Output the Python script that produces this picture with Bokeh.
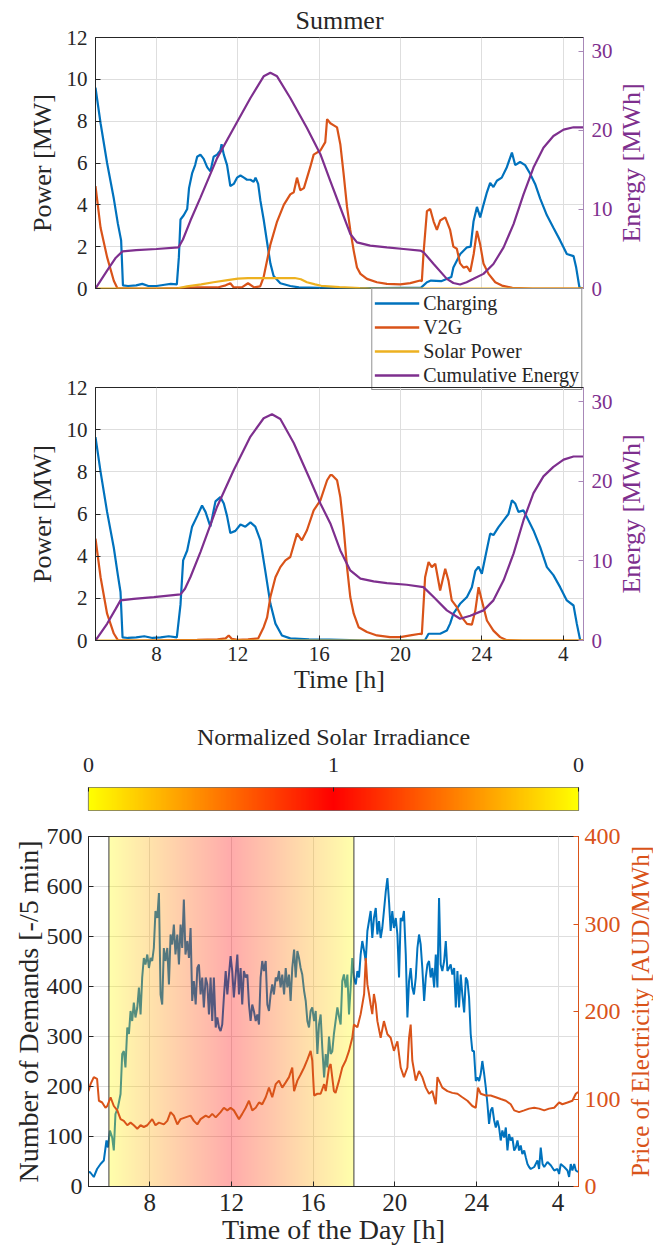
import math
import numpy as np
from bokeh.plotting import figure
from bokeh.models import Range1d, LinearAxis, FixedTicker, Legend, LegendItem, Title
from bokeh.layouts import column, row
from bokeh.embed import file_html
from bokeh.resources import INLINE

FONT = "Liberation Serif"
DARK = "#262626"
BLUE, ORANGE, YELLOW, PURPLE = "#0072BD", "#D95319", "#EDB120", "#7E2F8E"

# ---------------- data ----------------
x_ticks = [8, 12, 16, 20, 24, 28]
x_tick_overrides = {28: "4"}
time_range = [5, 29]
power_range = [0, 12]
energy_range = [0, 31.76]

# Panel 1 (Summer)
ch1_t = [5.0, 5.25, 5.57, 5.9, 6.1, 6.26, 6.35, 6.6, 7.0, 7.3, 7.6, 8.0, 8.4, 8.7, 9.0, 9.1, 9.18, 9.34, 9.51, 9.6,
         9.75, 9.9, 10.0, 10.16, 10.32, 10.49, 10.65, 10.81, 10.98, 11.14, 11.2, 11.31, 11.47, 11.63, 11.8, 11.96,
         12.13, 12.3, 12.45, 12.62, 12.78, 12.87, 13.0, 13.11, 13.27, 13.44, 13.6, 13.76, 14.09, 14.58, 15.0, 16.0,
         17.0, 18.0, 19.0, 20.0, 21.0, 21.3, 21.5, 22.0, 22.5, 22.6, 22.94, 23.27, 23.45, 23.59, 23.76, 23.92, 24.08,
         24.25, 24.41, 24.57, 24.74, 24.98, 25.23, 25.48, 25.64, 25.88, 26.13, 26.37, 26.62, 26.87, 27.2, 27.52,
         27.85, 28.18, 28.51, 28.64, 28.8, 29.0]
ch1_v = [9.6, 7.9, 6.0, 4.3, 3.1, 2.3, 0.15, 0.12, 0.15, 0.22, 0.12, 0.12, 0.18, 0.22, 0.2, 1.5, 3.3, 3.5, 3.8, 4.8,
         5.5, 5.9, 6.3, 6.4, 6.2, 5.8, 5.6, 6.3, 6.4, 6.6, 6.9, 6.4, 5.9, 4.9, 5.0, 5.3,
         5.4, 5.3, 5.2, 5.2, 5.1, 5.3, 5.0, 4.2, 3.3, 2.2, 1.2, 0.6, 0.25, 0.12, 0.05, 0.03,
         0.02, 0.02, 0.02, 0.03, 0.03, 0.3, 0.38, 0.35, 0.55, 1.0, 1.65, 1.97, 2.0, 3.2, 3.9, 3.4, 4.0,
         4.6, 5.05, 4.85, 5.15, 5.3, 5.8, 6.5, 5.9, 6.05, 5.9, 5.5, 5.0, 4.3, 3.5, 2.9,
         2.3, 1.65, 1.55, 1.0, 0.05, 0.0]

v2g1_t = [5.0, 5.25, 5.57, 5.9, 6.07, 7.0, 8.0, 9.0, 10.0, 11.0, 11.4, 11.63, 11.8, 12.2, 12.5, 12.8, 13.1, 13.27,
          13.44, 13.6, 13.93, 14.26, 14.58, 14.75, 14.91, 15.07, 15.25, 15.56, 15.73, 16.06, 16.3, 16.39, 16.55,
          16.72, 16.88, 17.04, 17.2, 17.37, 17.53, 17.7, 17.86, 18.03, 18.35, 18.84, 19.33, 19.99, 20.48, 20.97,
          21.05, 21.13, 21.3, 21.46, 21.63, 21.79, 21.95, 22.2, 22.44, 22.6, 22.77, 22.93, 23.1, 23.27, 23.43, 23.6,
          23.76, 23.92, 24.08, 24.33, 24.66, 24.99, 25.5, 26.5, 29.0]
v2g1_v = [4.9, 2.9, 1.5, 0.37, 0.02, 0.0, 0.0, 0.02, 0.05, 0.05, 0.15, 0.25, 0.05, 0.05, 0.25, 0.05, 0.1, 0.55,
          1.35, 2.1, 3.2, 4.0, 4.5, 4.6, 5.3, 4.7, 4.8, 5.8, 6.4, 6.6, 7.0, 8.1, 7.9,
          7.8, 7.7, 6.9, 5.5, 3.9, 2.8, 1.8, 1.0, 0.7, 0.46, 0.3, 0.22, 0.2, 0.26, 0.38,
          0.35, 1.65, 3.7, 3.8, 3.2, 2.8, 3.25, 3.4, 2.8, 2.0, 1.9, 1.2, 1.0, 1.05, 0.8, 1.65,
          2.75, 2.1, 1.2, 0.7, 0.3, 0.14, 0.03, 0.0, 0.0]

sol1_t = [5.0, 9.0, 9.5, 10.2, 10.8, 11.5, 12.0, 12.5, 13.5, 14.8, 15.1, 15.4, 15.8, 16.1, 17.0, 18.0, 18.5, 29.0]
sol1_v = [0.0, 0.0, 0.1, 0.2, 0.3, 0.4, 0.47, 0.5, 0.5, 0.5, 0.44, 0.3, 0.2, 0.13, 0.07, 0.02, 0.0, 0.0]

en1_t = [5.0, 5.57, 6.0, 6.33, 7.0, 8.0, 9.08, 9.3, 9.67, 10.16, 10.98, 11.8, 12.62, 13.27, 13.6, 13.93, 14.58,
         15.4, 16.06, 16.55, 17.04, 17.53, 17.86, 18.51, 19.33, 20.15, 20.97, 21.13, 21.63, 22.28, 22.6, 22.93,
         23.25, 23.59, 24.08, 24.57, 25.07, 25.56, 26.05, 26.54, 27.03, 27.52, 28.02, 28.51, 29.0]
en1_v = [0.0, 2.27, 3.9, 4.7, 4.85, 5.0, 5.2, 6.2, 8.6, 11.5, 16.5, 20.3, 24.1, 26.85, 27.3, 26.85, 24.1,
         20.3, 17.0, 13.6, 10.25, 6.9, 5.84, 5.42, 5.2, 5.0, 4.8, 4.6, 3.1, 1.22, 0.7, 0.5,
         0.8, 1.22, 1.85, 3.1, 5.2, 8.15, 11.9, 15.3, 17.8, 19.3, 20.1, 20.4, 20.4]

# Panel 2
ch2_t = [5.0, 5.25, 5.57, 5.9, 6.1, 6.23, 6.33, 6.6, 7.0, 7.4, 7.8, 8.2, 8.6, 9.0, 9.18, 9.31, 9.51, 9.75, 10.0,
         10.24, 10.41, 10.65, 10.9, 11.14, 11.31, 11.47, 11.63, 11.88, 12.13, 12.37, 12.62, 12.86, 13.11, 13.35,
         13.6, 13.85, 14.17, 14.58, 15.5, 16.5, 17.0, 18.0, 21.21, 21.38, 21.95, 22.28, 22.44, 22.6, 22.93, 23.27,
         23.51, 23.68, 23.84, 24.0, 24.17, 24.41, 24.57, 24.82, 25.07, 25.31, 25.48, 25.64, 25.8, 26.05, 26.29,
         26.54, 26.87, 27.2, 27.52, 27.85, 28.18, 28.51, 28.67, 28.84, 29.0]
ch2_v = [9.65, 8.0, 6.1, 4.4, 3.1, 2.3, 0.15, 0.12, 0.15, 0.2, 0.12, 0.15, 0.2, 0.15, 1.7, 3.8, 4.27, 5.4, 5.9,
         6.4, 6.1, 5.4, 6.6, 6.8, 6.5, 5.9, 5.1, 5.2, 5.5, 5.4, 5.6, 5.4, 4.75, 3.3,
         1.75, 0.8, 0.24, 0.1, 0.05, 0.04, 0.03, 0.01, 0.02, 0.32, 0.32, 0.47, 0.8, 1.27, 1.74, 2.06,
         2.53, 3.3, 3.5, 3.17, 3.96, 5.07, 5.0, 5.38, 5.7, 6.0, 6.65, 6.5, 6.1, 6.17, 5.7,
         5.22, 4.43, 3.48, 3.1, 2.53, 1.9, 1.66, 0.8, 0.0, 0.0]

v2g2_t = [5.0, 5.25, 5.57, 5.9, 6.1, 7.0, 9.0, 10.0, 11.0, 11.4, 11.55, 11.7, 12.0, 12.5, 13.0, 13.27, 13.44, 13.6,
          13.85, 14.09, 14.34, 14.58, 14.91, 15.15, 15.4, 15.73, 16.06, 16.39, 16.55, 16.64, 16.88, 17.04, 17.2,
          17.37, 17.53, 17.7, 17.94, 18.35, 18.84, 19.49, 19.99, 20.48, 20.97, 21.05, 21.21, 21.38, 21.54, 21.71,
          21.95, 22.2, 22.36, 22.52, 22.77, 23.02, 23.27, 23.51, 23.68, 23.84, 24.0, 24.25, 24.57, 24.9, 25.2,
          26.0, 29.0]
v2g2_v = [4.83, 3.0, 1.27, 0.33, 0.02, 0.0, 0.02, 0.03, 0.05, 0.1, 0.24, 0.08, 0.03, 0.05, 0.1, 0.63, 1.1, 2.06,
          3.0, 3.48, 3.8, 3.96, 5.07, 4.75, 5.23, 6.17, 6.65, 7.6, 7.84, 7.84, 7.6, 6.8, 5.38,
          3.48, 2.06, 1.27, 0.63, 0.4, 0.24, 0.16, 0.16, 0.24, 0.32, 0.3, 3.0, 3.72, 3.48, 3.64,
          2.37, 3.4, 2.84, 1.9, 1.58, 1.1, 0.79, 0.75, 1.42, 2.53, 1.9, 0.95, 0.47, 0.16, 0.02,
          0.0, 0.0]

sol2_t = [5.0, 29.0]
sol2_v = [0.0, 0.0]

en2_t = [5.0, 5.57, 6.0, 6.23, 6.88, 7.87, 9.18, 9.4, 9.67, 10.16, 10.98, 11.8, 12.62, 13.27, 13.68, 14.09, 14.75,
         15.56, 16.06, 16.55, 17.04, 17.53, 18.03, 18.68, 19.33, 20.31, 21.13, 21.63, 22.28, 22.93, 23.43, 24.08,
         24.57, 25.07, 25.56, 26.05, 26.54, 27.03, 27.52, 28.02, 28.51, 29.0]
en2_v = [0.0, 2.1, 4.0, 5.04, 5.23, 5.45, 5.79, 6.5, 7.97, 11.1, 16.8, 21.4, 25.6, 27.9, 28.4, 27.8, 24.8,
         20.15, 17.2, 14.7, 11.3, 8.8, 7.77, 7.42, 7.2, 7.0, 6.7, 5.45, 3.78, 2.73, 3.1, 3.78,
         5.04, 7.56, 10.9, 15.1, 18.5, 20.6, 21.8, 22.7, 23.1, 23.1]

legend_labels = ["Charging", "V2G", "Solar Power", "Cumulative Energy"]

# Colorbar
irr_ticks = [0, 1, 2]
irr_tick_labels = ["0", "1", "0"]

# Panel 3
demand_range = [0, 700]
price_range = [0, 400]
daylight = [6, 18]

dem_t = [5.0, 5.07, 5.26, 5.42, 5.59, 5.75, 5.88, 5.95, 6.05, 6.16, 6.24, 6.32, 6.44, 6.57, 6.65, 6.73, 6.81, 6.9,
         6.98, 7.06, 7.14, 7.22, 7.3, 7.39, 7.47, 7.55, 7.63, 7.71, 7.79, 7.88, 7.96, 8.04, 8.12, 8.2, 8.28, 8.37,
         8.45, 8.53, 8.61, 8.69, 8.77, 8.86, 8.94, 9.02, 9.1, 9.18, 9.26, 9.35, 9.43, 9.51, 9.59, 9.67, 9.75, 9.84,
         9.92, 10.0, 10.08, 10.16, 10.25, 10.33, 10.41, 10.49, 10.57, 10.65, 10.74, 10.82, 10.9, 10.98, 11.06,
         11.14, 11.23, 11.31, 11.39, 11.47, 11.55, 11.63, 11.72, 11.8, 11.88, 11.96, 12.04, 12.12, 12.21, 12.29,
         12.37, 12.45, 12.53, 12.61, 12.7, 12.78, 12.86, 12.94, 13.02, 13.1, 13.19, 13.27, 13.35, 13.43, 13.51,
         13.59, 13.68, 13.76, 13.84, 13.92, 14.0, 14.08, 14.17, 14.25, 14.33, 14.41, 14.49, 14.58, 14.66, 14.74,
         14.82, 14.9, 14.98, 15.07, 15.15, 15.23, 15.31, 15.39, 15.47, 15.56, 15.64, 15.72, 15.8, 15.88, 15.96,
         16.05, 16.13, 16.21, 16.29, 16.37, 16.45, 16.54, 16.62, 16.7, 16.78, 16.86, 16.94, 17.02, 17.1, 17.19,
         17.27, 17.35, 17.43, 17.51, 17.6, 17.68, 17.76, 17.84, 17.92, 18.0, 18.09, 18.17, 18.25, 18.33, 18.41,
         18.5, 18.58, 18.66, 18.74, 18.82, 18.9, 18.98, 19.07, 19.15, 19.23, 19.31, 19.39, 19.47, 19.56, 19.64,
         19.72, 19.8, 19.88, 19.96, 20.05, 20.13, 20.21, 20.29, 20.37, 20.45, 20.54, 20.62, 20.7, 20.78, 20.86,
         20.94, 21.03, 21.11, 21.19, 21.27, 21.35, 21.44, 21.52, 21.6, 21.68, 21.76, 21.84, 21.93, 22.01, 22.09,
         22.17, 22.25, 22.33, 22.42, 22.5, 22.58, 22.66, 22.74, 22.82, 22.91, 22.99, 23.07, 23.15, 23.23, 23.31,
         23.4, 23.48, 23.56, 23.64, 23.72, 23.8, 23.88, 23.97, 24.05, 24.13, 24.21, 24.29, 24.38, 24.46, 24.54,
         24.62, 24.7, 24.78, 24.87, 24.95, 25.03, 25.11, 25.19, 25.27, 25.36, 25.44, 25.52, 25.6, 25.68, 25.76,
         25.85, 25.93, 26.01, 26.09, 26.17, 26.25, 26.34, 26.42, 26.5, 26.58, 26.66, 26.83, 26.99, 27.07, 27.15,
         27.24, 27.32, 27.48, 27.65, 27.81, 27.97, 28.05, 28.13, 28.3, 28.46, 28.54, 28.62, 28.7, 28.79, 28.87,
         28.98]
dem_v = [28, 29, 19, 35, 45, 52, 92, 78, 112, 98, 72, 145, 158, 185, 265, 271, 238, 318,
         305, 351, 331, 368, 338, 358, 398, 344, 418, 457, 444, 464, 437, 457, 451, 477, 551, 537,
         587, 384, 364, 477, 451, 477, 404, 504, 484, 524, 464, 504, 444, 524, 477, 574, 464, 491,
         457, 517, 371, 411, 364, 437, 444, 384, 418, 358, 418, 404, 344, 418, 331,
         418, 318, 338, 318, 311, 324, 378, 431, 384, 424, 461, 431, 378, 424, 464,
         384, 437, 364, 431, 418, 424, 364, 331, 364, 351, 331, 344, 324, 418, 451,
         431, 451, 364, 351, 384, 404, 384, 418, 411, 431, 398, 424, 384, 437, 398,
         424, 371, 437, 474, 418, 471, 457, 437, 424, 391, 371, 331, 318, 351, 358,
         331, 351, 265, 324, 344, 278, 218, 265, 238, 300, 265, 270, 305, 330, 358,
         340, 324, 411, 424, 398, 424, 344, 398, 457, 418, 404, 431, 418, 464, 491,
         471, 451, 511, 531, 551, 497, 537, 557, 504, 531, 497, 517, 551, 590, 617,
         570, 511, 551, 517, 537, 504, 418, 537, 531, 551, 464, 338, 411, 437, 398,
         384, 418, 477, 504, 484, 437, 371, 418, 444, 451, 418, 437, 398, 464, 398,
         577, 444, 431, 451, 491, 431, 437, 444, 424, 437, 358, 431, 358, 424, 384,
         348, 418, 411, 378, 305, 271, 271, 211, 218, 211, 225, 251, 225, 198, 165,
         125, 152, 158, 132, 118, 132, 118, 92, 112, 98, 118, 72, 105, 92, 98,
         72, 78, 92, 72, 82, 65, 72, 58, 45, 39, 35, 39, 52, 35, 78,
         45, 39, 49, 42, 32, 35, 25, 45, 39, 32, 19, 45, 32, 45, 32,
         29]

price_t = [5.0, 5.1, 5.26, 5.42, 5.51, 5.67, 5.83, 5.92, 6.08, 6.24, 6.41, 6.57, 6.73, 6.9, 7.06, 7.22, 7.39, 7.55,
           7.71, 7.88, 8.12, 8.28, 8.45, 8.69, 8.86, 9.02, 9.18, 9.35, 9.51, 9.75, 10.0, 10.16, 10.33, 10.49, 10.74,
           10.9, 11.06, 11.23, 11.47, 11.63, 11.8, 11.96, 12.12, 12.37, 12.53, 12.7, 12.86, 13.02, 13.19, 13.35,
           13.51, 13.68, 13.84, 14.0, 14.17, 14.33, 14.49, 14.66, 14.82, 14.98, 15.07, 15.23, 15.39, 15.56, 15.72,
           15.88, 15.96, 16.05, 16.21, 16.37, 16.54, 16.62, 16.78, 16.86, 17.02, 17.1, 17.27, 17.43, 17.6, 17.76,
           17.92, 18.0, 18.17, 18.33, 18.5, 18.58, 18.66, 18.74, 18.82, 18.9, 18.98, 19.07, 19.15, 19.31, 19.47,
           19.64, 19.8, 19.96, 20.13, 20.29, 20.45, 20.62, 20.7, 20.78, 20.86, 21.03, 21.19, 21.35, 21.52, 21.68,
           21.84, 22.01, 22.09, 22.17, 22.33, 22.58, 22.82, 23.07, 23.31, 23.56, 23.8, 23.97, 24.08, 24.21, 24.46,
           24.7, 24.95, 25.19, 25.44, 25.68, 25.85, 26.09, 26.34, 26.58, 26.83, 27.07, 27.32, 27.56, 27.81, 28.05,
           28.21, 28.46, 28.7, 28.87, 28.98]
price_v = [109, 117, 125, 123, 98, 96, 90, 92, 102, 92, 87, 77, 75, 70, 73, 70, 66, 70,
           68, 70, 77, 70, 73, 71, 75, 85, 81, 71, 77, 79, 81, 75, 71, 77, 81,
           79, 83, 79, 85, 90, 87, 90, 87, 77, 83, 90, 98, 87, 90, 96,
           94, 102, 113, 102, 117, 121, 113, 119, 125, 136, 109, 121, 128, 136, 145,
           155, 144, 104, 106, 106, 117, 109, 136, 140, 109, 107, 121, 136, 144, 155,
           170, 185, 182, 197, 220, 261, 231, 220, 208, 197, 220, 208, 189, 170, 189,
           174, 170, 155, 166, 136, 125, 136, 170, 185, 144, 121, 132, 125, 113, 106,
           109, 94, 125, 121, 113, 109, 107, 106, 102, 98, 92, 90, 113, 106, 104,
           104, 102, 100, 98, 94, 87, 85, 87, 89, 90, 89, 87, 89, 90, 96,
           94, 96, 98, 106, 108]


# ---------------- helpers ----------------
def style_axis(ax, tick_size, label_size, color=DARK, line_color=None, standoff=7, label_standoff=6):
    lc = line_color or color
    ax.axis_line_color = lc
    ax.major_tick_line_color = lc
    ax.major_tick_in = 5
    ax.major_tick_out = 0
    ax.minor_tick_line_color = None
    ax.major_label_text_font = FONT
    ax.major_label_text_font_size = tick_size
    ax.major_label_text_color = color
    ax.major_label_standoff = standoff
    ax.axis_label_text_font = FONT
    ax.axis_label_text_font_size = label_size
    ax.axis_label_text_font_style = "normal"
    ax.axis_label_text_color = color
    ax.axis_label_standoff = label_standoff


def style_grid(p):
    p.xgrid.ticker = FixedTicker(ticks=x_ticks)
    p.grid.grid_line_color = "#dedede"
    p.grid.grid_line_width = 1
    p.outline_line_color = DARK
    p.outline_line_width = 1


def blank_fig(width, height, top, bottom, left=0, right=0, **kw):
    f = figure(width=width, height=height, x_range=Range1d(0, 1), y_range=Range1d(0, 1),
               x_axis_type=None, y_axis_type=None, output_backend="svg", toolbar_location=None,
               min_border_left=left, min_border_right=right, min_border_top=top, min_border_bottom=bottom, **kw)
    f.outline_line_color = None
    f.background_fill_color = None
    f.border_fill_color = None
    f.grid.visible = False
    return f


def side_label(text, color, width, height, top, bottom, xpos, size):
    s = blank_fig(width, height, top, bottom)
    s.text(x=[xpos], y=[0.5], text=[text], angle=math.pi / 2, text_align="center", text_baseline="middle",
           text_font={"value": FONT}, text_font_size={"value": size}, text_color=color)
    return s


def power_fig(height, top, bottom, show_x, title=None):
    p = figure(width=617, height=height, x_range=Range1d(*time_range), y_range=Range1d(*power_range),
               output_backend="svg", toolbar_location=None, title=title,
               min_border_left=95, min_border_right=34, min_border_top=top, min_border_bottom=bottom)
    p.extra_y_ranges = {"energy": Range1d(*energy_range)}
    p.xaxis.ticker = FixedTicker(ticks=x_ticks)
    p.xaxis.major_label_overrides = x_tick_overrides
    p.yaxis.ticker = FixedTicker(ticks=[0, 2, 4, 6, 8, 10, 12])
    p.yaxis.axis_label = "Power [MW]"
    style_axis(p.xaxis[0], "21px", "26px", standoff=6, label_standoff=1)
    style_axis(p.yaxis[0], "21px", "26px", standoff=8, label_standoff=7)
    if show_x:
        p.xaxis.axis_label = "Time [h]"
    else:
        p.xaxis.visible = False
    ax = LinearAxis(y_range_name="energy", ticker=FixedTicker(ticks=[0, 10, 20, 30]))
    style_axis(ax, "21px", "26px", color=PURPLE, line_color="#a888b8", standoff=8, label_standoff=0)
    p.add_layout(ax, "right")
    style_grid(p)
    p.border_fill_color = None
    p.background_fill_color = None
    return p


# ---------------- panel 1 ----------------
summer_title = Title(text="Summer", text_font=FONT, text_font_size="26px", text_font_style="normal",
                     text_color=DARK, align="center", standoff=5)
p1 = power_fig(300, 37, 12, False, title=summer_title)
p1.line(ch1_t, ch1_v, color=BLUE, line_width=2.2)
p1.line(v2g1_t, v2g1_v, color=ORANGE, line_width=2.2)
p1.line(sol1_t, sol1_v, color=YELLOW, line_width=2.2)
p1.line(en1_t, en1_v, color=PURPLE, line_width=2.2, y_range_name="energy")
s1 = side_label("Energy [MWh]", PURPLE, 36, 300, 37, 12, 0.4, "26px")

# ---------------- legend strip (between panels 1 and 2) ----------------
lg = blank_fig(653, 104, 0, 0, left=88, right=70)
proxies = [lg.line(t, v, color=c, line_width=2.4, visible=False)
           for t, v, c in ((ch1_t, ch1_v, BLUE), (v2g1_t, v2g1_v, ORANGE),
                           (sol1_t, sol1_v, YELLOW), (en1_t, en1_v, PURPLE))]
legend = Legend(items=[LegendItem(label=l, renderers=[r]) for l, r in zip(legend_labels, proxies)],
                location="top_right", orientation="vertical")
legend.label_text_font = FONT
legend.label_text_font_size = "20px"
legend.label_text_color = DARK
legend.glyph_width = 45
legend.glyph_height = 24
legend.label_height = 24
legend.label_standoff = 4
legend.spacing = 0
legend.padding = 2
legend.margin = 1
legend.border_line_color = DARK
legend.border_line_width = 1
legend.background_fill_color = "white"
legend.background_fill_alpha = 1.0
legend.inactive_fill_alpha = 0.0
lg.add_layout(legend)

# ---------------- panel 2 ----------------
p2 = power_fig(325, 12, 60, True)
p2.line(ch2_t, ch2_v, color=BLUE, line_width=2.2)
p2.line(v2g2_t, v2g2_v, color=ORANGE, line_width=2.2)
p2.line(sol2_t, sol2_v, color=YELLOW, line_width=2.2)
p2.line(en2_t, en2_v, color=PURPLE, line_width=2.2, y_range_name="energy")
s2 = side_label("Energy [MWh]", PURPLE, 36, 325, 12, 60, 0.4, "26px")

# ---------------- colorbar ----------------
def autumn_rgba(irr, alpha):
    n = len(irr)
    img = np.empty((1, n), dtype=np.uint32)
    view = img.view(dtype=np.uint8).reshape((1, n, 4))
    view[0, :, 0] = 255
    view[0, :, 1] = np.round(255 * (1 - irr)).astype(np.uint8)
    view[0, :, 2] = 0
    view[0, :, 3] = alpha
    return img

cb = figure(width=653, height=120, x_range=Range1d(irr_ticks[0], irr_ticks[-1]), y_range=Range1d(0, 1),
            output_backend="svg", toolbar_location=None, x_axis_type=None, y_axis_type=None,
            min_border_left=88, min_border_right=75, min_border_top=87, min_border_bottom=10)
pos = np.linspace(irr_ticks[0], irr_ticks[-1], 301)
cb_irr = 1 - np.abs(pos - irr_ticks[1])
cb.image_rgba(image=[autumn_rgba(cb_irr, 255)], x=irr_ticks[0], y=0, dw=irr_ticks[-1] - irr_ticks[0], dh=1)
cax = LinearAxis(ticker=FixedTicker(ticks=irr_ticks),
                 major_label_overrides={t: s for t, s in zip(irr_ticks, irr_tick_labels)},
                 axis_label="Normalized Solar Irradiance")
style_axis(cax, "22px", "24px", standoff=16, label_standoff=5)
cax.axis_line_color = None
cax.major_tick_in = 4
cb.add_layout(cax, "above")
cb.outline_line_color = "#707070"
cb.outline_line_width = 1.2

# ---------------- panel 3 ----------------
p3 = figure(width=624, height=438, x_range=Range1d(*time_range), y_range=Range1d(*demand_range),
            output_backend="svg", toolbar_location=None,
            min_border_left=88, min_border_right=46, min_border_top=16, min_border_bottom=72)
p3.extra_y_ranges = {"price": Range1d(*price_range)}
p3.xaxis.ticker = FixedTicker(ticks=x_ticks)
p3.xaxis.major_label_overrides = x_tick_overrides
p3.xaxis.axis_label = "Time of the Day [h]"
p3.yaxis.ticker = FixedTicker(ticks=list(range(0, 701, 100)))
p3.yaxis.axis_label = "Number of Demands [-/5 min]"
style_axis(p3.xaxis[0], "25px", "28px", standoff=7, label_standoff=0)
style_axis(p3.yaxis[0], "24px", "28px", standoff=6, label_standoff=0)
pax = LinearAxis(y_range_name="price", ticker=FixedTicker(ticks=[0, 100, 200, 300, 400]))
style_axis(pax, "24px", "26px", color=ORANGE, standoff=6, label_standoff=0)
p3.add_layout(pax, "right")
style_grid(p3)

p3.line(dem_t, dem_v, color=BLUE, line_width=2)
sh_t = np.linspace(daylight[0], daylight[1], 241)
sh_irr = 1 - np.abs(sh_t - (daylight[0] + daylight[1]) / 2) / ((daylight[1] - daylight[0]) / 2)
p3.image_rgba(image=[autumn_rgba(sh_irr, 84)], x=daylight[0], y=demand_range[0],
              dw=daylight[1] - daylight[0], dh=demand_range[1] - demand_range[0])
p3.quad(left=[daylight[0]], right=[daylight[1]], bottom=[demand_range[0]], top=[demand_range[1]],
        fill_alpha=0, line_color="#3c3c3c", line_width=1)
p3.line(price_t, price_v, color=ORANGE, line_width=2, y_range_name="price")
s3 = side_label("Price of Electricity [AUD/MWh]", ORANGE, 29, 438, 16, 72, 0.55, "25px")

layout = column(row(p1, s1, spacing=0),
                row(lg, spacing=0, margin=(-13, 0, 0, 0)),
                row(p2, s2, spacing=0, margin=(-16, 0, 0, 0)),
                row(cb, spacing=0),
                row(p3, s3, spacing=0),
                spacing=0)
open("out.html", "w").write(file_html(layout, INLINE))
